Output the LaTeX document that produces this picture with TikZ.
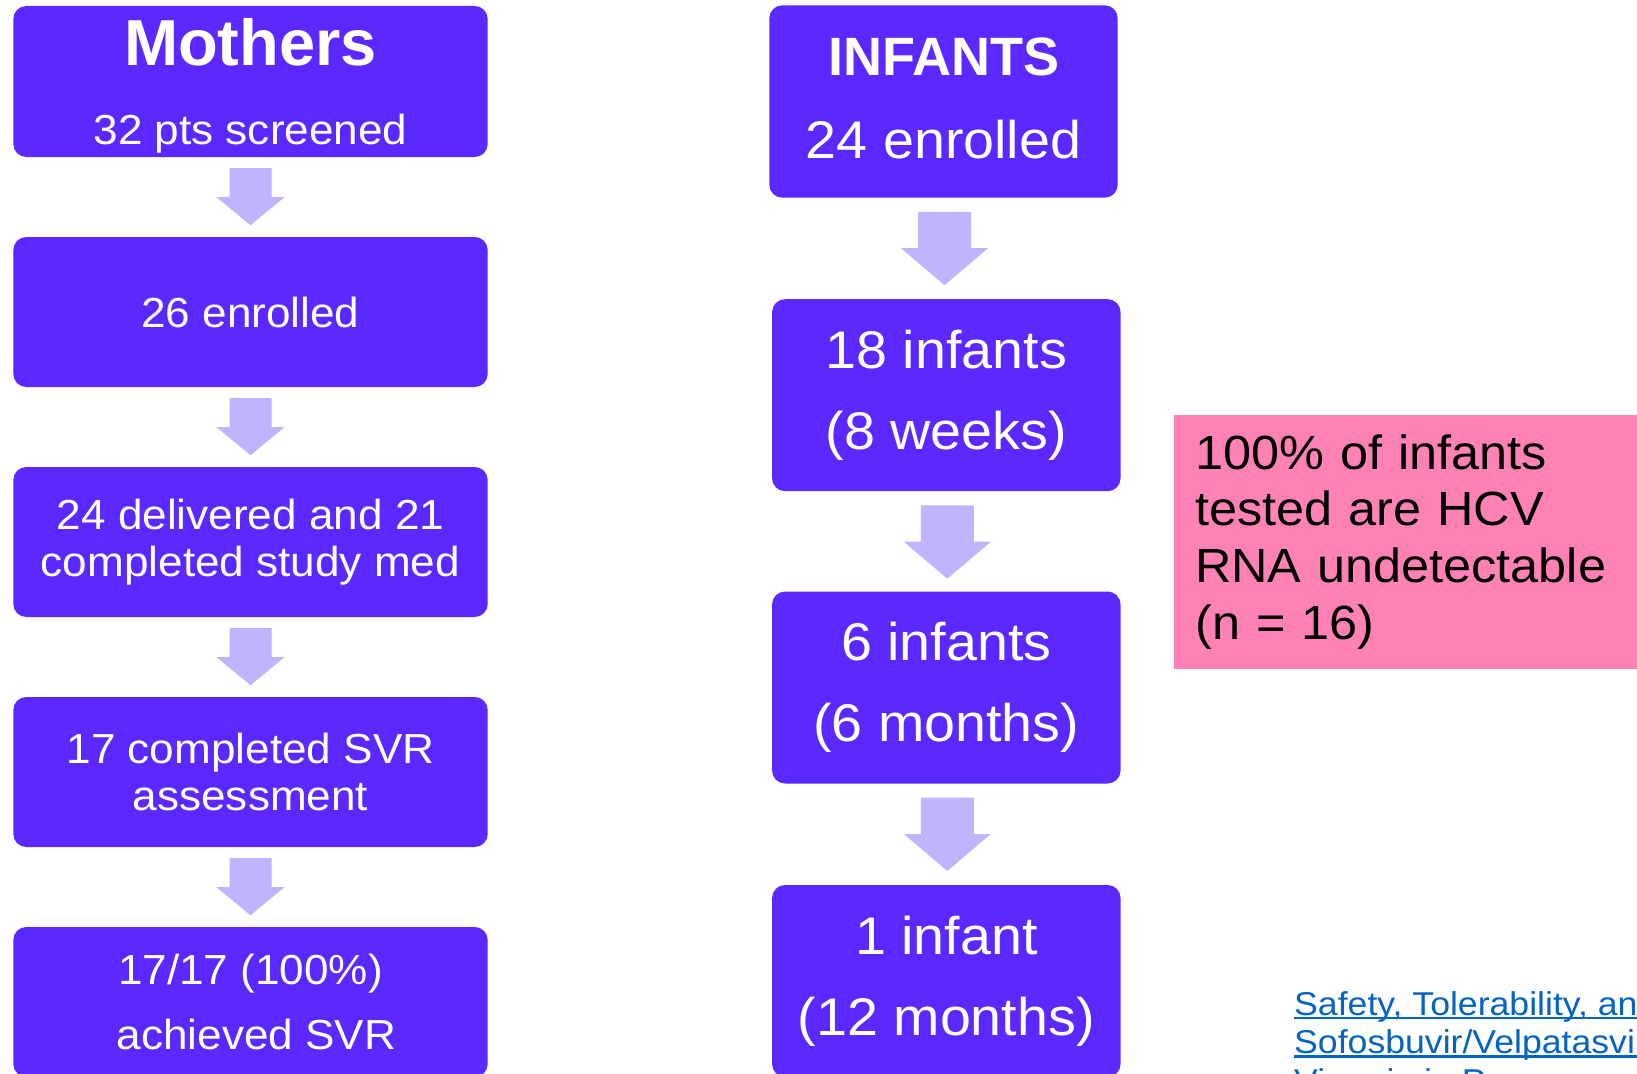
\documentclass[tikz,border=0pt]{standalone}
\usepackage{fontspec}
\setmainfont{Liberation Sans}[FakeStretch=1.05]
\newfontfamily\headfont{Liberation Sans}
\newfontfamily\linkfont{Liberation Sans}[FakeStretch=1.08]
\usetikzlibrary{calc}
\definecolor{boxc}{HTML}{5B28FF}
\definecolor{arrc}{HTML}{C0B4FF}
\definecolor{pinkc}{HTML}{FF82B7}
\definecolor{linkc}{HTML}{0563C1}
\newcommand\ulink[1]{\setbox0\hbox{#1}\rlap{\rule[-4pt]{\wd0}{2.6pt}}\box0}
\newcommand\flowarrowL[1]{\fill[arrc, shift={($(#1.south)+(0,11)$)}] (-21,0) -- (21,0) -- (21,29) -- (34,29) -- (0,57) -- (-34,29) -- (-21,29) -- cycle;}
\newcommand\flowarrowR[1]{\fill[arrc, shift={($(#1.south)+(1,14)$)}] (-26.5,0) -- (26.5,0) -- (26.5,36.3) -- (43.5,36.3) -- (0,73.3) -- (-43.5,36.3) -- (-26.5,36.3) -- cycle;}
\begin{document}
\begin{tikzpicture}[x=1pt,y=-1pt,
  lbox/.style={fill=boxc, rounded corners=13pt, text=white, align=center, inner sep=0pt,
    minimum width=474.4pt, minimum height=150pt, font=\fontsize{42}{47}\selectfont},
  ibox/.style={fill=boxc, rounded corners=13pt, text=white, align=center, inner sep=0pt,
    minimum width=348.5pt, minimum height=192pt, font=\fontsize{53}{81}\selectfont},
  notebox/.style={fill=pinkc, text=black, align=left, anchor=north west, inner xsep=21.7pt,
    inner ysep=0pt, text width=433pt, minimum height=253.3pt, font=\fontsize{48}{56.7}\selectfont},
  linktext/.style={text=linkc, align=left, anchor=north west, inner sep=0pt,
    font=\linkfont\fontsize{33}{38.5}\selectfont}]
\useasboundingbox (0,0) rectangle (1637,1073);
\clip (0,0) rectangle (1637,1073);
\fill[white] (0,0) rectangle (1637,1073);

% Mothers column
\node[lbox, minimum height=151pt, font=\fontsize{42}{79}\selectfont] (m1) at (250.5,81.5)
  {{\headfont\bfseries\fontsize{65}{79}\selectfont\rule{0pt}{55pt}Mothers}\\32 pts screened};
\node[lbox] (m2) at (250.5,312) {26 enrolled};
\node[lbox] (m3) at (250.5,542) {24 delivered and 21\\completed study med};
\node[lbox] (m4) at (250.5,772) {17 completed SVR\\assessment};
\node[lbox, font=\fontsize{42}{65}\selectfont] (m5) at (250.5,1002) {17/17 (100\%)\\\hspace*{12pt}achieved SVR};

\flowarrowL{m1}
\flowarrowL{m2}
\flowarrowL{m3}
\flowarrowL{m4}

% Infants column
\node[ibox, minimum width=348.4pt, minimum height=192.4pt, font=\fontsize{53}{83}\selectfont] (i1) at (943.5,101.5)
  {{\headfont\bfseries\fontsize{54}{83}\selectfont INFANTS}\\24 enrolled\rule[-7pt]{0pt}{7pt}};
\node[ibox] (i2) at (946.3,395.2) {18 infants\\(8 weeks)};
\node[ibox] (i3) at (946.3,687.5) {6 infants\\(6 months)};
\node[ibox] (i4) at (946.3,981) {1 infant\\(12 months)};

\flowarrowR{i1}
\flowarrowR{i2}
\flowarrowR{i3}

% Result note
\node[notebox] (note) at (1173.3,415)
  {100\% of infants\\tested are HCV\\RNA undetectable\\(n = 16)};

% Reference link
\node[linktext] (ref) at (1294,991)
  {\ulink{Safety, Tolerability, and Efficacy of}\\\ulink{Sofosbuvir/Velpatasvir in Pregnant}\\\ulink{Viremia in Pregnancy}};
\end{tikzpicture}
\end{document}
